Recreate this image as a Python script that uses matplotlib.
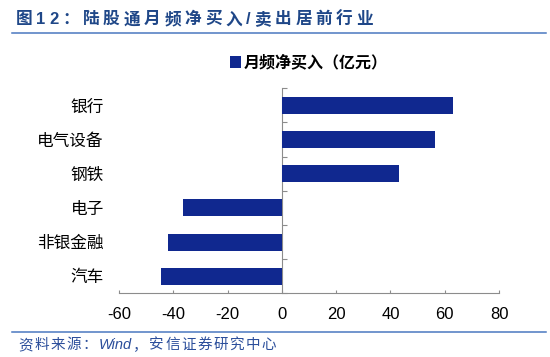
import re
import numpy as np
import matplotlib
matplotlib.use("Agg")
import matplotlib.pyplot as plt

plt.rcParams['font.family'] = ['Liberation Sans', 'Noto Sans CJK SC', 'DejaVu Sans']
plt.rcParams['axes.unicode_minus'] = False

# data
industries = ["银行", "电气设备", "钢铁", "电子", "非银金融", "汽车"]
net_buy = [63.2, 56.5, 43.0, -36.3, -42.1, -44.6]
xticks = [-60, -40, -20, 0, 20, 40, 60, 80]

title_text = "图12：陆股通月频净买入/卖出居前行业"
legend_label = "月频净买入（亿元）"
source_text = "资料来源：Wind，安信证券研究中心"

bar_color = '#10288F'
axis_gray = '#8C8C8C'
title_color = '#1F4788'
rule_color = '#4A78C0'

W, H = 550, 357
fig = plt.figure(figsize=(W / 100, H / 100), dpi=100)
ax = fig.add_axes([119 / W, 1 - 293.3 / H, 380 / W, 205 / H])

ypos = np.arange(len(industries))
ax.barh(ypos, net_buy, height=0.5, color=bar_color, label=legend_label, zorder=3)
ax.set_xlim(xticks[0], xticks[-1])
ax.set_ylim(len(industries) - 0.5, -0.5)
ax.set_xticks(xticks)
ax.set_yticks(ypos)
ax.set_yticklabels(industries, fontsize=12)
ax.tick_params(axis='y', length=0, pad=11)
ax.tick_params(axis='x', direction='in', length=2.5, color=axis_gray, labelsize=12, pad=10)
for s in ['top', 'right', 'left']:
    ax.spines[s].set_visible(False)
ax.spines['bottom'].set_color(axis_gray)

# vertical axis through zero, ticks between categories
zero_pos = (0 - xticks[0]) / (xticks[-1] - xticks[0])
sec = ax.secondary_yaxis(zero_pos)
sec.set_yticks(np.arange(len(industries) + 1) - 0.5)
sec.yaxis.set_ticks_position('left')
sec.tick_params(direction='in', length=3.5, color=axis_gray, labelleft=False, labelright=False)
for sp in sec.spines.values():
    sp.set_color(axis_gray)

ax.legend(loc='center', bbox_to_anchor=(0.5, 1.125), frameon=False,
          prop={'size': 11.5, 'weight': 'bold'}, handlelength=0.7, handleheight=0.7,
          handletextpad=0.15)

renderer = fig.canvas.get_renderer()


def spaced_text(s, x0, yc, tracking, pattern, **kw):
    # lay out characters one by one with extra spacing like the source pdf
    x = x0
    for tok in re.findall(pattern, s):
        t = fig.text(x / W, 1 - yc / H, tok, ha='left', va='center', **kw)
        x += t.get_window_extent(renderer).width + tracking


spaced_text(title_text, 15.5, 19.5, 3.8, r'.', fontsize=12, fontweight='bold', color=title_color)
fig.add_artist(plt.Line2D([12 / W, 546 / W], [1 - 33.3 / H] * 2, color=rule_color, lw=1.1))

fig.add_artist(plt.Line2D([12 / W, 546 / W], [1 - 332.3 / H] * 2, color=rule_color, lw=1.1))
spaced_text(source_text, 18.3, 345, 1.4, r'[A-Za-z]+|.', fontsize=10.5, style='italic',
            color='#2B4E9B')

fig.savefig('out.png', dpi=100)
